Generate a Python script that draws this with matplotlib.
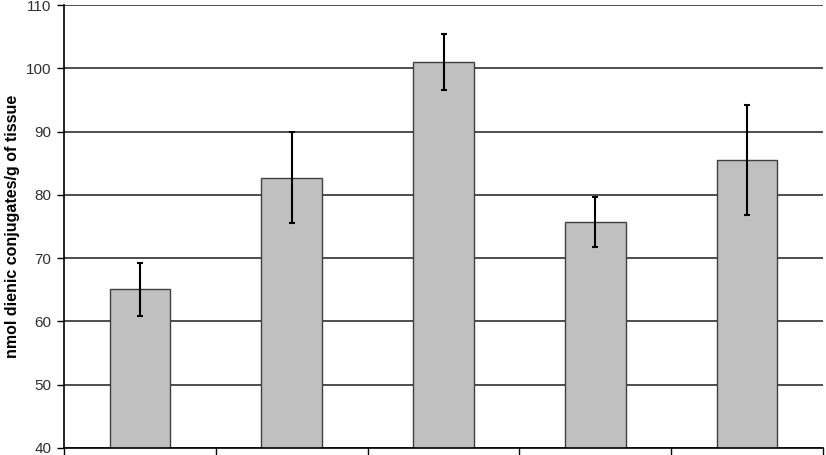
import matplotlib
matplotlib.use('Agg')
import matplotlib.pyplot as plt
import numpy as np

# values
groups = ['1', '2', '3', '4', '5']
means = [65.1, 82.7, 101.0, 75.7, 85.5]
errors = [4.2, 7.2, 4.4, 3.9, 8.7]
yticks = [40, 50, 60, 70, 80, 90, 100, 110]

plt.rcParams['font.family'] = ['Liberation Sans', 'DejaVu Sans']

fig = plt.figure(figsize=(8.26, 4.55), dpi=100)
ax = fig.add_axes([0.0775, 0.0154, 0.9189, 0.9736])

x = np.arange(len(groups))
ax.set_axisbelow(True)
ax.yaxis.grid(True, color='#303030', linewidth=1.2)
ax.bar(x, means, width=0.4, color='#c0c0c0', edgecolor='#404040', linewidth=1.0, zorder=2)
ax.errorbar(x, means, yerr=errors, fmt='none', ecolor='black', elinewidth=1.5,
            capsize=2.5, capthick=1.5, zorder=3)

ax.set_ylim(40, 110)
ax.set_yticks(yticks)
ax.set_xlim(-0.5, len(groups) - 0.5)
ax.set_xticks(np.arange(len(groups) + 1) - 0.5)
ax.set_xticklabels([])
ax.tick_params(axis='y', length=5, width=1, labelsize=11, labelcolor='#303030', pad=4)
ax.tick_params(axis='x', length=5, width=1)

for s in ['top', 'right']:
    ax.spines[s].set_visible(False)
ax.spines['left'].set_linewidth(1.2)
ax.spines['bottom'].set_linewidth(1.2)

ax.set_ylabel('nmol dienic conjugates/g of tissue', fontsize=11.5, fontweight='bold', labelpad=4)

fig.savefig('out.png', dpi=100)
